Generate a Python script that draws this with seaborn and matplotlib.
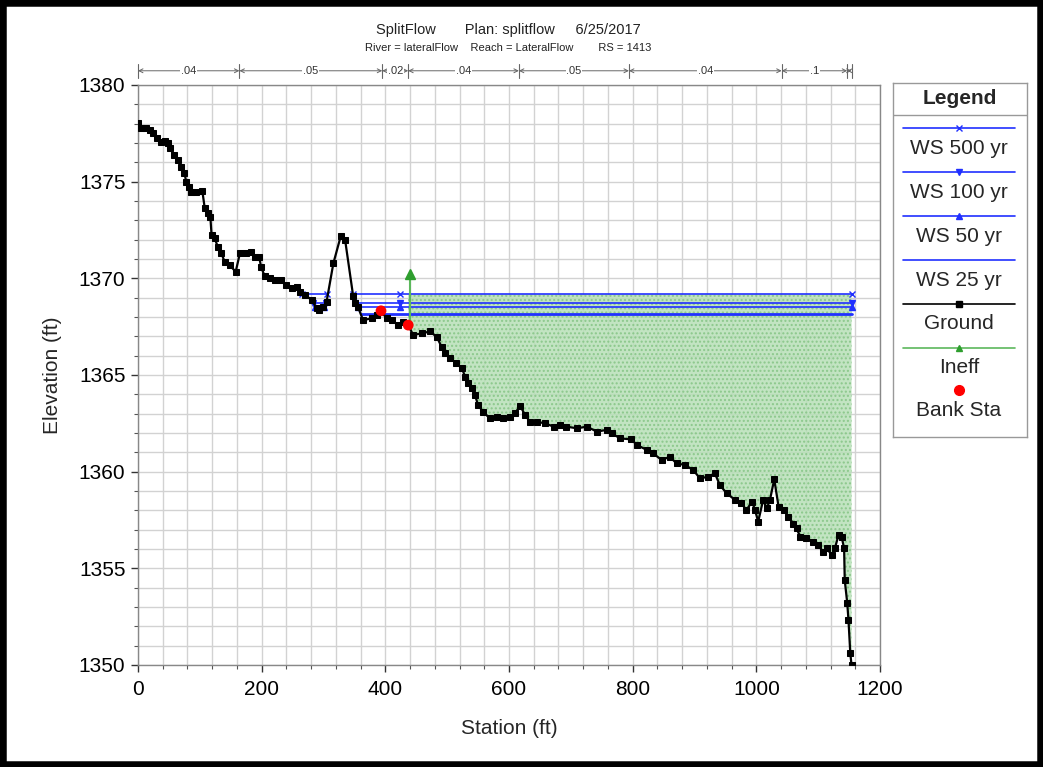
import matplotlib.pyplot as plt
import matplotlib.transforms as mtransforms
from matplotlib.patches import Rectangle
from matplotlib.ticker import MultipleLocator
import pandas as pd
import seaborn as sns

sns.set_theme(style="white")
plt.rcParams['font.family'] = ['Liberation Sans', 'DejaVu Sans']

# ground profile, station (ft) / elevation (ft)
ground_sta = [0, 5, 13, 19, 24, 30, 38, 43, 49, 51, 59, 65, 70, 75, 78, 82, 86, 94, 104, 108,
              113, 117, 119, 124, 129, 135, 140, 148, 158, 165, 175, 182, 189, 196, 199, 205, 213,
              222, 232, 240, 249, 257, 262, 270, 281, 289, 292, 300, 305, 316, 328, 335, 348, 351,
              356, 364, 378, 386, 393, 402, 410, 421, 429, 437, 445, 459, 472, 483, 491, 497, 505,
              515, 524, 529, 534, 540, 545, 550, 558, 569, 580, 591, 602, 610, 618, 626, 634, 645,
              658, 672, 682, 693, 710, 726, 742, 758, 766, 780, 798, 807, 823, 833, 847, 860, 871,
              885, 898, 909, 922, 933, 941, 952, 966, 976, 984, 993, 998, 1003, 1011, 1017, 1022,
              1029, 1036, 1044, 1052, 1060, 1065, 1071, 1081, 1092, 1100, 1108, 1114, 1122, 1127,
              1133, 1138, 1142, 1143, 1147, 1149, 1152, 1154]
ground_elev = [1378.05, 1377.76, 1377.76, 1377.67, 1377.53, 1377.24, 1377.07, 1377.12, 1376.98,
               1376.72, 1376.38, 1376.12, 1375.77, 1375.46, 1375.00, 1374.74, 1374.48, 1374.48,
               1374.53, 1373.62, 1373.36, 1373.19, 1372.24, 1372.07, 1371.64, 1371.29, 1370.86,
               1370.69, 1370.34, 1371.32, 1371.29, 1371.38, 1371.12, 1371.12, 1370.60, 1370.10,
               1370.00, 1369.91, 1369.91, 1369.65, 1369.48, 1369.57, 1369.31, 1369.14, 1368.88,
               1368.45, 1368.36, 1368.53, 1368.79, 1370.78, 1372.19, 1371.98, 1369.08, 1368.71,
               1368.50, 1367.84, 1367.93, 1368.10, 1368.32, 1367.93, 1367.84, 1367.58, 1367.76,
               1367.58, 1367.07, 1367.15, 1367.25, 1366.98, 1366.46, 1366.12, 1365.86, 1365.60,
               1365.34, 1364.91, 1364.57, 1364.31, 1363.96, 1363.45, 1363.10, 1362.76, 1362.84,
               1362.76, 1362.84, 1363.02, 1363.41, 1362.93, 1362.58, 1362.58, 1362.50, 1362.33,
               1362.41, 1362.33, 1362.24, 1362.33, 1362.07, 1362.16, 1361.98, 1361.72, 1361.67,
               1361.38, 1361.12, 1360.95, 1360.60, 1360.77, 1360.43, 1360.34, 1360.08, 1359.65,
               1359.74, 1359.91, 1359.31, 1358.88, 1358.53, 1358.36, 1358.01, 1358.45, 1358.01,
               1357.41, 1358.53, 1358.10, 1358.53, 1359.60, 1358.19, 1358.01, 1357.67, 1357.30,
               1357.07, 1356.63, 1356.55, 1356.38, 1356.20, 1355.86, 1356.03, 1355.69, 1356.03,
               1356.72, 1356.63, 1356.03, 1354.39, 1353.22, 1352.35, 1350.60, 1350.00]

# water surfaces
ws_names = ['WS 500 yr', 'WS 100 yr', 'WS 50 yr', 'WS 25 yr']
ws_elev = [1369.17, 1368.74, 1368.50, 1368.15]
ws_markers = ['x', 'v', '^', None]
pocket_start = [265, 283, 287, None]
pocket_end = [305, 304, 301, None]
main_start = [348, 351, 356, 361]
main_end = 1154
ws_mark_sta = 424

# ineffective flow limit and bank stations
ineff_sta = 440
ineff_base = 1367.5
ineff_elev = 1370.2
bank_sta = [393, 437]
bank_elev = [1368.32, 1367.58]

# manning's n breaks along the top
n_bounds = [0, 164, 395, 437, 616, 794, 1041, 1147, 1154]
n_vals = ['.04', '.05', '.02', '.04', '.05', '.04', '.1', '']

BLUE = '#2030ff'
GREEN = '#2e9e2e'

fig = plt.figure(figsize=(10.43, 7.67), dpi=100)
ax = fig.add_axes([0.1323, 0.1330, 0.7114, 0.7562])

ground = pd.DataFrame({'Station': ground_sta, 'Elevation': ground_elev})

# wetted area (effective flow) to the right of the ineffective limit
wet = ground[ground['Station'] >= bank_sta[1]]
ax.fill_between(wet['Station'], wet['Elevation'], ws_elev[0], facecolor='#b8e0b8',
                edgecolor='#84c484', hatch='....', linewidth=0, alpha=0.85, zorder=1)

# water surface lines
for i, name in enumerate(ws_names):
    lw = 2.0 if i == 3 else 1.2
    segs = [(main_start[i], main_end)]
    if pocket_start[i] is not None:
        segs.append((pocket_start[i], pocket_end[i]))
    for s0, s1 in segs:
        seg = pd.DataFrame({'Station': [s0, s1], 'Elevation': [ws_elev[i], ws_elev[i]]})
        sns.lineplot(data=seg, x='Station', y='Elevation', color=BLUE, linewidth=lw,
                     ax=ax, zorder=3)
        if ws_markers[i]:
            ax.plot([s0, s1], [ws_elev[i]] * 2, ls='none', marker=ws_markers[i],
                    color=BLUE, markersize=4, zorder=4)
    if ws_markers[i]:
        ax.plot([ws_mark_sta], [ws_elev[i]], ls='none', marker=ws_markers[i], color=BLUE,
                markersize=4, zorder=4)

# ground
sns.lineplot(data=ground, x='Station', y='Elevation', sort=False, estimator=None,
             color='black', linewidth=1.6, marker='s', markersize=4,
             markeredgecolor='black', ax=ax, zorder=5)

# ineffective flow marker
ax.plot([ineff_sta, ineff_sta], [ineff_base, ineff_elev], color='#5cb85c', lw=1.5, zorder=4)
ax.plot([ineff_sta], [ineff_elev], ls='none', marker='^', color=GREEN, markersize=7, zorder=6)

# bank stations
sns.scatterplot(x=bank_sta, y=bank_elev, color='red', s=60, edgecolor='none', ax=ax, zorder=7)

ax.set_xlim(0, 1200)
ax.set_ylim(1350, 1380)
ax.xaxis.set_major_locator(MultipleLocator(200))
ax.xaxis.set_minor_locator(MultipleLocator(40))
ax.yaxis.set_major_locator(MultipleLocator(5))
ax.yaxis.set_minor_locator(MultipleLocator(1))
ax.grid(which='both', color='#d2d2d2', linewidth=1.0, zorder=0)
ax.set_axisbelow(True)
ax.tick_params(which='major', direction='out', length=5, width=1, labelsize=15,
               left=True, bottom=True, colors='#333333', labelcolor='black')
ax.tick_params(which='minor', direction='out', length=3, width=0.8, left=True, bottom=True,
               colors='#555555')
ax.tick_params(axis='x', pad=6)
ax.tick_params(axis='y', pad=4)
for sp in ax.spines.values():
    sp.set_color('#888888')
    sp.set_linewidth(1.0)
ax.set_xlabel('Station (ft)', fontsize=15, labelpad=14)
ax.set_ylabel('Elevation (ft)', fontsize=15, labelpad=12)

# manning's n bar above the plot
trans = mtransforms.blended_transform_factory(ax.transData, ax.transAxes)
ybar = 1.0245
for i, lab in enumerate(n_vals):
    x0, x1 = n_bounds[i], n_bounds[i + 1]
    ax.annotate('', xy=(x0, ybar), xytext=(x1, ybar), xycoords=trans, textcoords=trans,
                arrowprops=dict(arrowstyle='<->', color='#666666', lw=0.7,
                                shrinkA=0, shrinkB=0, mutation_scale=7),
                annotation_clip=False)
    if lab:
        ax.text((x0 + x1) / 2, ybar, lab, transform=trans, ha='center', va='center',
                fontsize=8, color='#333333', clip_on=False,
                bbox=dict(facecolor='white', edgecolor='none', pad=0.6))
for b in n_bounds:
    ax.plot([b, b], [ybar - 0.012, ybar + 0.012], transform=trans, color='#666666',
            lw=0.8, clip_on=False)

# header
fig.text(0.487, 0.961, 'SplitFlow       Plan: splitflow     6/25/2017', ha='center',
         va='center', fontsize=10.5, color='#222222')
fig.text(0.487, 0.938, 'River = lateralFlow    Reach = LateralFlow        RS = 1413',
         ha='center', va='center', fontsize=8, color='#222222')

# legend panel
lax = fig.add_axes([893 / 1043, 1 - 437 / 767, 134 / 1043, 354 / 767])
lax.set_xlim(893, 1027)
lax.set_ylim(437, 83)
lax.set_xticks([])
lax.set_yticks([])
for sp in lax.spines.values():
    sp.set_color('#999999')
    sp.set_linewidth(1.0)
lax.text(960, 98, 'Legend', ha='center', va='center', fontsize=15, fontweight='bold')
lax.plot([893, 1027], [115, 115], color='#999999', lw=1)
leg_items = [('WS 500 yr', BLUE, 'x', True), ('WS 100 yr', BLUE, 'v', True),
             ('WS 50 yr', BLUE, '^', True), ('WS 25 yr', BLUE, None, True),
             ('Ground', 'black', 's', True), ('Ineff', '#5cb85c', '^', True),
             ('Bank Sta', 'red', 'o', False)]
line_y = [128, 172, 216, 260, 304, 348, 390]
text_y = [149, 193, 237, 280, 323, 367, 410]
for (lab, col, mk, has_line), ly, ty in zip(leg_items, line_y, text_y):
    if has_line:
        lax.plot([903, 1015], [ly, ly], color=col, lw=1.2)
    if mk:
        mcol = GREEN if lab == 'Ineff' else col
        lax.plot([959], [ly], ls='none', marker=mk, color=mcol,
                 markersize=7 if lab == 'Bank Sta' else 4)
    lax.text(959, ty, lab, ha='center', va='center', fontsize=15)

# outer frame
fig.patches.append(Rectangle((0, 0), 1, 1, transform=fig.transFigure, fill=False,
                             edgecolor='black', linewidth=9))

fig.savefig('out.png', dpi=100)
